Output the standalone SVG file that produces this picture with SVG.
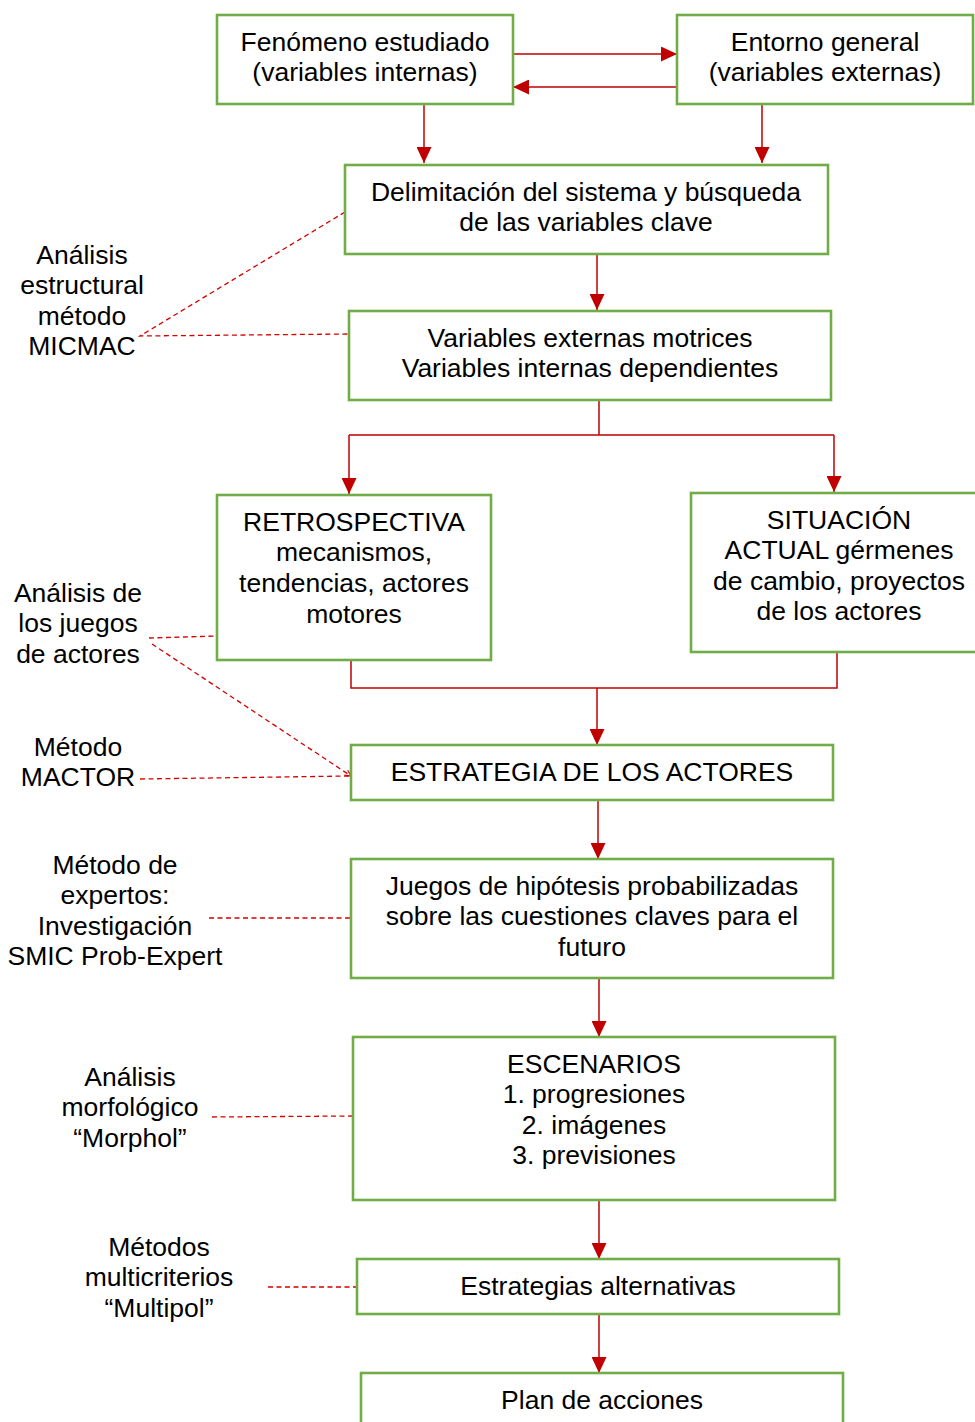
<svg xmlns="http://www.w3.org/2000/svg" width="975" height="1422" viewBox="0 0 975 1422">
  <style>
    .box { fill: #ffffff; stroke: #70AD47; stroke-width: 2.6; }
    .t { font-family: "Liberation Sans", Arial, sans-serif; font-size: 26.5px; fill: #000000; text-anchor: middle; }
    .flow { fill: none; stroke: #C00000; stroke-width: 1.5; }
    .dash { fill: none; stroke: #D40000; stroke-width: 1.3; stroke-dasharray: 5 3.5; }
  </style>
  <defs>
    <marker id="arrow" markerUnits="userSpaceOnUse" markerWidth="16" markerHeight="15" viewBox="0 0 16 15" refX="16" refY="7.5" orient="auto">
      <path d="M0,0 L16,7.5 L0,15 Z" fill="#C00000"/>
    </marker>
    <marker id="openTip" markerUnits="userSpaceOnUse" markerWidth="8" markerHeight="8" viewBox="0 0 8 8" refX="7" refY="4" orient="auto">
      <path d="M1,1 L7,4 L1,7" fill="none" stroke="#D40000" stroke-width="1.2"/>
    </marker>
  </defs>

  <!-- flow connectors and method links -->
  <g id="connectors">
    <path class="flow" d="M513,54 H677" marker-end="url(#arrow)"/>
    <path class="flow" d="M677,87 H513" marker-end="url(#arrow)"/>
    <path class="flow" d="M424,104 V163" marker-end="url(#arrow)"/>
    <path class="flow" d="M762,104 V163" marker-end="url(#arrow)"/>
    <path class="flow" d="M597,254 V310" marker-end="url(#arrow)"/>
    <path class="flow" d="M599,400 V435"/>
    <path class="flow" d="M349,435 H834"/>
    <path class="flow" d="M349,435 V494" marker-end="url(#arrow)"/>
    <path class="flow" d="M834,435 V492" marker-end="url(#arrow)"/>
    <path class="flow" d="M351,660 V688 H837 V652"/>
    <path class="flow" d="M597,688 V745" marker-end="url(#arrow)"/>
    <path class="flow" d="M598,800 V859" marker-end="url(#arrow)"/>
    <path class="flow" d="M599,978 V1037" marker-end="url(#arrow)"/>
    <path class="flow" d="M599,1200 V1259" marker-end="url(#arrow)"/>
    <path class="flow" d="M599,1314 V1373" marker-end="url(#arrow)"/>

    <path class="dash" d="M345,212 L140,336 L349,334"/>
    <path class="dash" d="M149,638 L217,636"/>
    <path class="dash" d="M152,644 L351,776" marker-end="url(#openTip)"/>
    <path class="dash" d="M140,779 L351,776"/>
    <path class="dash" d="M209,918 L351,918"/>
    <path class="dash" d="M212,1117 L353,1116"/>
    <path class="dash" d="M268,1287 L357,1287"/>
  </g>

  <g id="fenomeno">
    <rect class="box" x="217" y="15" width="296" height="89"/>
    <text class="t" x="365" y="50.5">Fenómeno estudiado</text>
    <text class="t" x="365" y="80.5">(variables internas)</text>
  </g>
  <g id="entorno">
    <rect class="box" x="677" y="15" width="296" height="89"/>
    <text class="t" x="825" y="50.5">Entorno general</text>
    <text class="t" x="825" y="80.5">(variables externas)</text>
  </g>
  <g id="delimitacion">
    <rect class="box" x="345" y="165" width="483" height="89"/>
    <text class="t" x="586" y="200.5">Delimitación del sistema y búsqueda</text>
    <text class="t" x="586" y="230.5">de las variables clave</text>
  </g>
  <g id="variables">
    <rect class="box" x="349" y="311" width="482" height="89"/>
    <text class="t" x="590" y="346.5">Variables externas motrices</text>
    <text class="t" x="590" y="376.5">Variables internas dependientes</text>
  </g>
  <g id="retrospectiva">
    <rect class="box" x="217" y="495" width="274" height="165"/>
    <text class="t" x="354" y="530.5">RETROSPECTIVA</text>
    <text class="t" x="354" y="561.2">mecanismos,</text>
    <text class="t" x="354" y="591.9">tendencias, actores</text>
    <text class="t" x="354" y="622.6">motores</text>
  </g>
  <g id="situacion">
    <rect class="box" x="691" y="493" width="292" height="159"/>
    <text class="t" x="839" y="528.5">SITUACIÓN</text>
    <text class="t" x="839" y="559">ACTUAL gérmenes</text>
    <text class="t" x="839" y="589.5">de cambio, proyectos</text>
    <text class="t" x="839" y="620">de los actores</text>
  </g>
  <g id="estrategia-actores">
    <rect class="box" x="351" y="745" width="482" height="55"/>
    <text class="t" x="592" y="780.5">ESTRATEGIA DE LOS ACTORES</text>
  </g>
  <g id="hipotesis">
    <rect class="box" x="351" y="859" width="482" height="119"/>
    <text class="t" x="592" y="894.5">Juegos de hipótesis probabilizadas</text>
    <text class="t" x="592" y="925">sobre las cuestiones claves para el</text>
    <text class="t" x="592" y="955.5">futuro</text>
  </g>
  <g id="escenarios">
    <rect class="box" x="353" y="1037" width="482" height="163"/>
    <text class="t" x="594" y="1072.5">ESCENARIOS</text>
    <text class="t" x="594" y="1103">1. progresiones</text>
    <text class="t" x="594" y="1133.5">2. imágenes</text>
    <text class="t" x="594" y="1164">3. previsiones</text>
  </g>
  <g id="estrategias-alternativas">
    <rect class="box" x="357" y="1259" width="482" height="55"/>
    <text class="t" x="598" y="1294.5">Estrategias alternativas</text>
  </g>
  <g id="plan">
    <rect class="box" x="361" y="1373" width="482" height="70"/>
    <text class="t" x="602" y="1408.5">Plan de acciones</text>
  </g>

  <!-- method labels on the left -->
  <g id="micmac">
    <text class="t" x="82" y="263.5">Análisis</text>
    <text class="t" x="82" y="294">estructural</text>
    <text class="t" x="82" y="324.5">método</text>
    <text class="t" x="82" y="355">MICMAC</text>
  </g>
  <g id="juegos-actores">
    <text class="t" x="78" y="601.5">Análisis de</text>
    <text class="t" x="78" y="632">los juegos</text>
    <text class="t" x="78" y="662.5">de actores</text>
  </g>
  <g id="mactor">
    <text class="t" x="78" y="755.5">Método</text>
    <text class="t" x="78" y="786">MACTOR</text>
  </g>
  <g id="expertos">
    <text class="t" x="115" y="873.5">Método de</text>
    <text class="t" x="115" y="904">expertos:</text>
    <text class="t" x="115" y="934.5">Investigación</text>
    <text class="t" x="115" y="965">SMIC Prob-Expert</text>
  </g>
  <g id="morphol">
    <text class="t" x="130" y="1085.5">Análisis</text>
    <text class="t" x="130" y="1116">morfológico</text>
    <text class="t" x="130" y="1146.5">“Morphol”</text>
  </g>
  <g id="multipol">
    <text class="t" x="159" y="1255.5">Métodos</text>
    <text class="t" x="159" y="1286">multicriterios</text>
    <text class="t" x="159" y="1316.5">“Multipol”</text>
  </g>
</svg>
